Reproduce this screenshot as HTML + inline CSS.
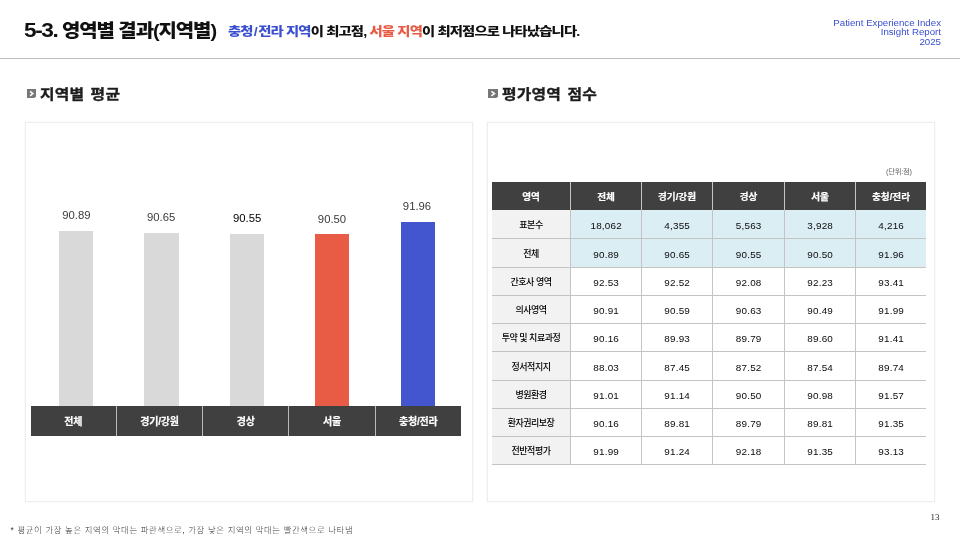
<!DOCTYPE html>
<html lang="ko">
<head>
<meta charset="utf-8">
<title>5-3. 영역별 결과(지역별)</title>
<style>
*{margin:0;padding:0;box-sizing:border-box}
html,body{width:960px;height:540px;overflow:hidden;background:#fff}
body{position:relative;font-family:"Liberation Sans","Noto Sans CJK KR",sans-serif;color:#111}
.abs{position:absolute;white-space:nowrap;transform-origin:0 0}
.title{left:24px;top:16.5px;font-size:18.5px;font-weight:900;letter-spacing:-1px;color:#111;line-height:28px;transform:scaleX(1.08)}
.title b{font-size:21px;font-weight:700;letter-spacing:-1.3px;line-height:0}
.sub{left:227.5px;top:21.5px;font-size:12px;font-weight:900;letter-spacing:-0.7px;line-height:20px;color:#111;transform:scaleX(1.193)}
.sl{padding:0 1px}
.blue{color:#3b50d0}.red{color:#e85a45}
.brand{right:19px;top:17.5px;text-align:right;font-size:9.7px;line-height:9.6px;color:#3a4ed0;transform-origin:100% 0}
.hr{left:0;top:58px;width:960px;height:1px;background:#bdbdbd}
.sec{font-size:14.2px;font-weight:700;letter-spacing:0.2px;word-spacing:1.5px;line-height:20px;color:#1c1c1c;transform:scaleX(1.115);-webkit-text-stroke:0.35px #1c1c1c}
.ico{width:9px;height:9px}
.card{background:#fff;border:1px solid #eee;box-shadow:0 0 2px rgba(0,0,0,0.07)}
.bar{background:#d9d9d9}
.val{font-size:11.3px;color:#3a3a3a;width:60px;text-align:center;line-height:12px}
.axis{left:30.5px;top:405.7px;width:430.5px;height:30px;background:#404040;display:flex}
.axis div{flex:1;color:#fff;font-size:10px;font-weight:700;text-align:center;line-height:32.4px;border-right:1px solid #bbb;letter-spacing:-0.2px;-webkit-text-stroke:0.2px #fff}
.axis div:last-child{border-right:none}
.foot{left:10.5px;top:523.5px;font-size:8.4px;color:#333;line-height:12px;font-weight:300;letter-spacing:0.6px;word-spacing:0.15px}
.pn{left:930.5px;top:511px;font-family:"Liberation Serif",serif;font-size:9px;color:#222;line-height:12px}
.unit{left:886px;top:166.5px;font-size:7.4px;color:#666;letter-spacing:-0.3px;line-height:10px}
table{position:absolute;left:492px;top:182px;border-collapse:separate;border-spacing:0;table-layout:fixed;width:434px}
th{background:#404040;color:#fff;font-size:9.6px;font-weight:700;height:28px;border-right:1px solid #c4c4c4;text-align:center;-webkit-text-stroke:0.2px #fff}
th:last-child{border-right:none}
td{font-size:9.9px;letter-spacing:0.2px;text-align:center;border-bottom:1px solid #c4c4c4;border-right:1px solid #c4c4c4;color:#0a0a0a;padding-top:2px;padding-left:0.4px}
td:last-child{border-right:none}
td:first-child{background:#f2f2f2;font-size:9px;letter-spacing:-0.5px;padding-top:0.5px;padding-left:0;font-weight:500;color:#000}
tr{height:28px}
tr.t{height:29px}
tr.hl td:not(:first-child){background:#dbeef4}
</style>
</head>
<body>
<div class="abs title"><b>5-3.</b> 영역별 결과(지역별)</div>
<div class="abs sub"><span class="blue">충청<span class="sl">/</span>전라 지역</span>이 최고점, <span class="red">서울 지역</span>이 최저점으로 나타났습니다.</div>
<div class="abs brand">Patient Experience Index<br>Insight Report<br>2025</div>
<div class="abs hr"></div>

<svg class="abs ico" style="left:27px;top:89px" viewBox="0 0 9 9"><path d="M0 0H9V7.3L7.3 9H0Z" fill="#777"/><path d="M3.1 2.3L5.9 4.6L3.1 6.9" fill="none" stroke="#fff" stroke-width="1.5"/></svg>
<div class="abs sec" style="left:40.3px;top:84.4px">지역별 평균</div>
<svg class="abs ico" style="left:488px;top:89px;width:10px" viewBox="0 0 10 9"><path d="M0 0H10V7.3L8.3 9H0Z" fill="#777"/><path d="M3.4 2.3L6.5 4.6L3.4 6.9" fill="none" stroke="#fff" stroke-width="1.5"/></svg>
<div class="abs sec" style="left:501.5px;top:84.4px">평가영역 점수</div>

<div class="abs card" style="left:25px;top:122px;width:448px;height:380px"></div>
<div class="abs card" style="left:487px;top:122px;width:448px;height:380px"></div>

<div class="abs bar" style="left:59.2px;top:230.8px;width:33.8px;height:175.2px"></div>
<div class="abs bar" style="left:144.2px;top:233px;width:34.6px;height:173px"></div>
<div class="abs bar" style="left:230px;top:233.8px;width:33.8px;height:172.2px"></div>
<div class="abs bar" style="left:314.8px;top:233.9px;width:34.2px;height:172.1px;background:#e85c45"></div>
<div class="abs bar" style="left:400.9px;top:221.8px;width:34.2px;height:184.2px;background:#4455d0"></div>
<div class="abs val" style="left:46.4px;top:209px">90.89</div>
<div class="abs val" style="left:131.1px;top:211px">90.65</div>
<div class="abs val" style="left:217.1px;top:212.3px;color:#000">90.55</div>
<div class="abs val" style="left:302px;top:212.8px">90.50</div>
<div class="abs val" style="left:387px;top:200px">91.96</div>
<div class="abs axis"><div>전체</div><div>경기/강원</div><div>경상</div><div>서울</div><div>충청/전라</div></div>

<div class="abs unit">(단위:점)</div>
<table>
<colgroup><col style="width:79px"><col style="width:71px"><col style="width:71px"><col style="width:72px"><col style="width:71px"><col style="width:70px"></colgroup>
<tr><th>영역</th><th>전체</th><th>경기/강원</th><th>경상</th><th>서울</th><th>충청/전라</th></tr>
<tr class="hl t"><td>표본수</td><td>18,062</td><td>4,355</td><td>5,563</td><td>3,928</td><td>4,216</td></tr>
<tr class="hl t"><td>전체</td><td>90.89</td><td>90.65</td><td>90.55</td><td>90.50</td><td>91.96</td></tr>
<tr><td>간호사 영역</td><td>92.53</td><td>92.52</td><td>92.08</td><td>92.23</td><td>93.41</td></tr>
<tr><td>의사영역</td><td>90.91</td><td>90.59</td><td>90.63</td><td>90.49</td><td>91.99</td></tr>
<tr><td>투약 및 치료과정</td><td>90.16</td><td>89.93</td><td>89.79</td><td>89.60</td><td>91.41</td></tr>
<tr class="t"><td>정서적지지</td><td>88.03</td><td>87.45</td><td>87.52</td><td>87.54</td><td>89.74</td></tr>
<tr><td>병원환경</td><td>91.01</td><td>91.14</td><td>90.50</td><td>90.98</td><td>91.57</td></tr>
<tr><td>환자권리보장</td><td>90.16</td><td>89.81</td><td>89.79</td><td>89.81</td><td>91.35</td></tr>
<tr><td>전반적평가</td><td>91.99</td><td>91.24</td><td>92.18</td><td>91.35</td><td>93.13</td></tr>
</table>

<div class="abs foot">* 평균이 가장 높은 지역의 막대는 파란색으로, 가장 낮은 지역의 막대는 빨간색으로 나타냄</div>
<div class="abs pn">13</div>
</body>
</html>
